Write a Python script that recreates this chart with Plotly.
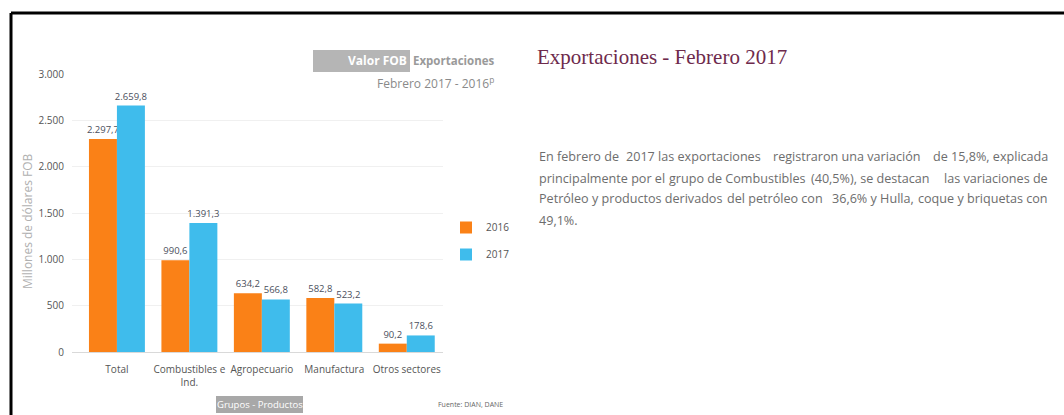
import plotly.graph_objects as go

categories = ["Total", "Combustibles e<br>Ind.", "Agropecuario", "Manufactura", "Otros sectores"]
values_2016 = [2297.7, 990.6, 634.2, 582.8, 90.2]
values_2017 = [2659.8, 1391.3, 566.8, 523.2, 178.6]
series_names = ["2016", "2017"]
y_ticks = [0, 500, 1000, 1500, 2000, 2500, 3000]

paragraph_lines = [
    "En febrero de 2017 las exportaciones registraron una variación de 15,8%, explicada",
    "principalmente por el grupo de Combustibles (40,5%), se destacan las variaciones de",
    "Petróleo y productos derivados del petróleo con 36,6% y Hulla, coque y briquetas con",
    "49,1%.",
]

W, H = 1064, 415
ORANGE = "#FA8117"
BLUE = "#3FBCEC"
FONT = "Open Sans"

def px(x):
    return x / W

def py(y):
    return 1 - y / H

fig = go.Figure()
for name, vals, col in [(series_names[0], values_2016, ORANGE), (series_names[1], values_2017, BLUE)]:
    fig.add_trace(go.Bar(
        x=categories, y=vals, name=name, legendgroup=name, marker_color=col, marker_line_width=0,
        texttemplate="%{y:,.1f}", textposition="outside", cliponaxis=False, constraintext="none",
        textfont=dict(family=FONT, size=9.5, color="#4a4f5c"),
    ))

fig.update_layout(
    width=W, height=H,
    margin=dict(l=0, r=0, t=0, b=0, autoexpand=False),
    paper_bgcolor="white", plot_bgcolor="white",
    separators=",.",
    barmode="group", bargap=0.228, bargroupgap=0,
    showlegend=True,
    legend=dict(x=px(446), y=py(213), xanchor="left", yanchor="top",
                font=dict(family=FONT, size=10, color="#555"),
                traceorder="grouped", itemwidth=30, tracegroupgap=8, bgcolor="rgba(0,0,0,0)"),
    xaxis=dict(domain=[px(72), px(443)], range=[-0.62, 4.5], showgrid=False,
               showline=False, ticks="", automargin=False, ticklabelstandoff=10, tickangle=0,
               tickfont=dict(family=FONT, size=10, color="#555")),
    yaxis=dict(domain=[py(352), py(74)], range=[0, 3000], tickvals=y_ticks,
               tickformat=",", showgrid=True, gridcolor="#f0f0f0", zeroline=True,
               zerolinecolor="#d9d9d9", zerolinewidth=1, ticks="outside", automargin=False,
               ticklen=5, tickcolor="#ffffff",
               tickfont=dict(family=FONT, size=10, color="#555")),
)

# Frame lines (left and top)
fig.add_shape(type="line", xref="paper", yref="paper", x0=px(11), x1=1, y0=py(13), y1=py(13),
              line=dict(color="black", width=3))
fig.add_shape(type="line", xref="paper", yref="paper", x0=px(11), x1=px(11), y0=py(13), y1=0,
              line=dict(color="black", width=3))

# Chart header
fig.add_shape(type="rect", xref="paper", yref="paper", x0=px(313), x1=px(410), y0=py(72), y1=py(50),
              fillcolor="#b5b5b5", line_width=0)
fig.add_annotation(x=px(409), y=py(61), xref="paper", yref="paper", xanchor="right", yanchor="middle",
                   text="<b>Valor FOB</b>", showarrow=False,
                   font=dict(family=FONT, size=12, color="white"))
fig.add_annotation(x=px(411), y=py(61), xref="paper", yref="paper", xanchor="left", yanchor="middle",
                   text="<b>Exportaciones</b>", showarrow=False,
                   font=dict(family=FONT, size=11.5, color="#9a9a9a"))
fig.add_annotation(x=px(496), y=py(83), xref="paper", yref="paper", xanchor="right", yanchor="middle",
                   text="Febrero 2017 - 2016<sup>p</sup>", showarrow=False,
                   font=dict(family=FONT, size=12, color="#8a8a8a"))

# Axis title
fig.add_annotation(x=px(27), y=py(222), xref="paper", yref="paper", xanchor="center", yanchor="middle",
                   text="Millones de dólares FOB", textangle=-90, showarrow=False,
                   font=dict(family=FONT, size=12, color="#b0b0b0"))

# Bottom labels
fig.add_shape(type="rect", xref="paper", yref="paper", x0=px(216), x1=px(303), y0=py(413), y1=py(396),
              fillcolor="#a8a8a8", line_width=0)
fig.add_annotation(x=px(259.5), y=py(404.5), xref="paper", yref="paper", xanchor="center", yanchor="middle",
                   text="Grupos - Productos", showarrow=False,
                   font=dict(family=FONT, size=9.5, color="white"))
fig.add_annotation(x=px(505), y=py(404), xref="paper", yref="paper", xanchor="right", yanchor="middle",
                   text="Fuente: DIAN, DANE", showarrow=False,
                   font=dict(family=FONT, size=7, color="#666"))

# Right-side text
fig.add_annotation(x=px(535), y=py(57), xref="paper", yref="paper", xanchor="left", yanchor="middle",
                   text="Exportaciones - Febrero 2017", showarrow=False,
                   font=dict(family="Liberation Serif", size=21, color="#6e2a4c"))

# Justified paragraph: each line split into chunks spread proportionally over the line width
LEFT, RIGHT = 537, 1050
N_CHUNKS = 4
line_y = [156, 178, 199, 220]
pfont = dict(family=FONT, size=12.6, color="#6d6d6d")
for i, (txt, yy) in enumerate(zip(paragraph_lines, line_y)):
    if i == len(paragraph_lines) - 1:
        fig.add_annotation(x=px(LEFT), y=py(yy), xref="paper", yref="paper", xanchor="left",
                           yanchor="middle", text=txt, showarrow=False, font=pfont)
        continue
    words = txt.split(" ")
    n = len(words)
    cuts = [round(k * n / N_CHUNKS) for k in range(N_CHUNKS + 1)]
    chunks = [" ".join(words[cuts[k]:cuts[k + 1]]) for k in range(N_CHUNKS)]
    total = len(txt)
    offset = 0
    for k, ch in enumerate(chunks):
        if k == 0:
            xpos, anchor = LEFT, "left"
        elif k == N_CHUNKS - 1:
            xpos, anchor = RIGHT, "right"
        else:
            xpos, anchor = LEFT + (offset + len(ch) / 2) / total * (RIGHT - LEFT), "center"
        fig.add_annotation(x=px(xpos), y=py(yy), xref="paper", yref="paper", xanchor=anchor,
                           yanchor="middle", text=ch, showarrow=False, font=pfont)
        offset += len(ch) + 1

fig.write_html("out.html", config={"displayModeBar": False},
               post_script="document.body.style.margin='0';document.body.style.overflow='hidden';")
